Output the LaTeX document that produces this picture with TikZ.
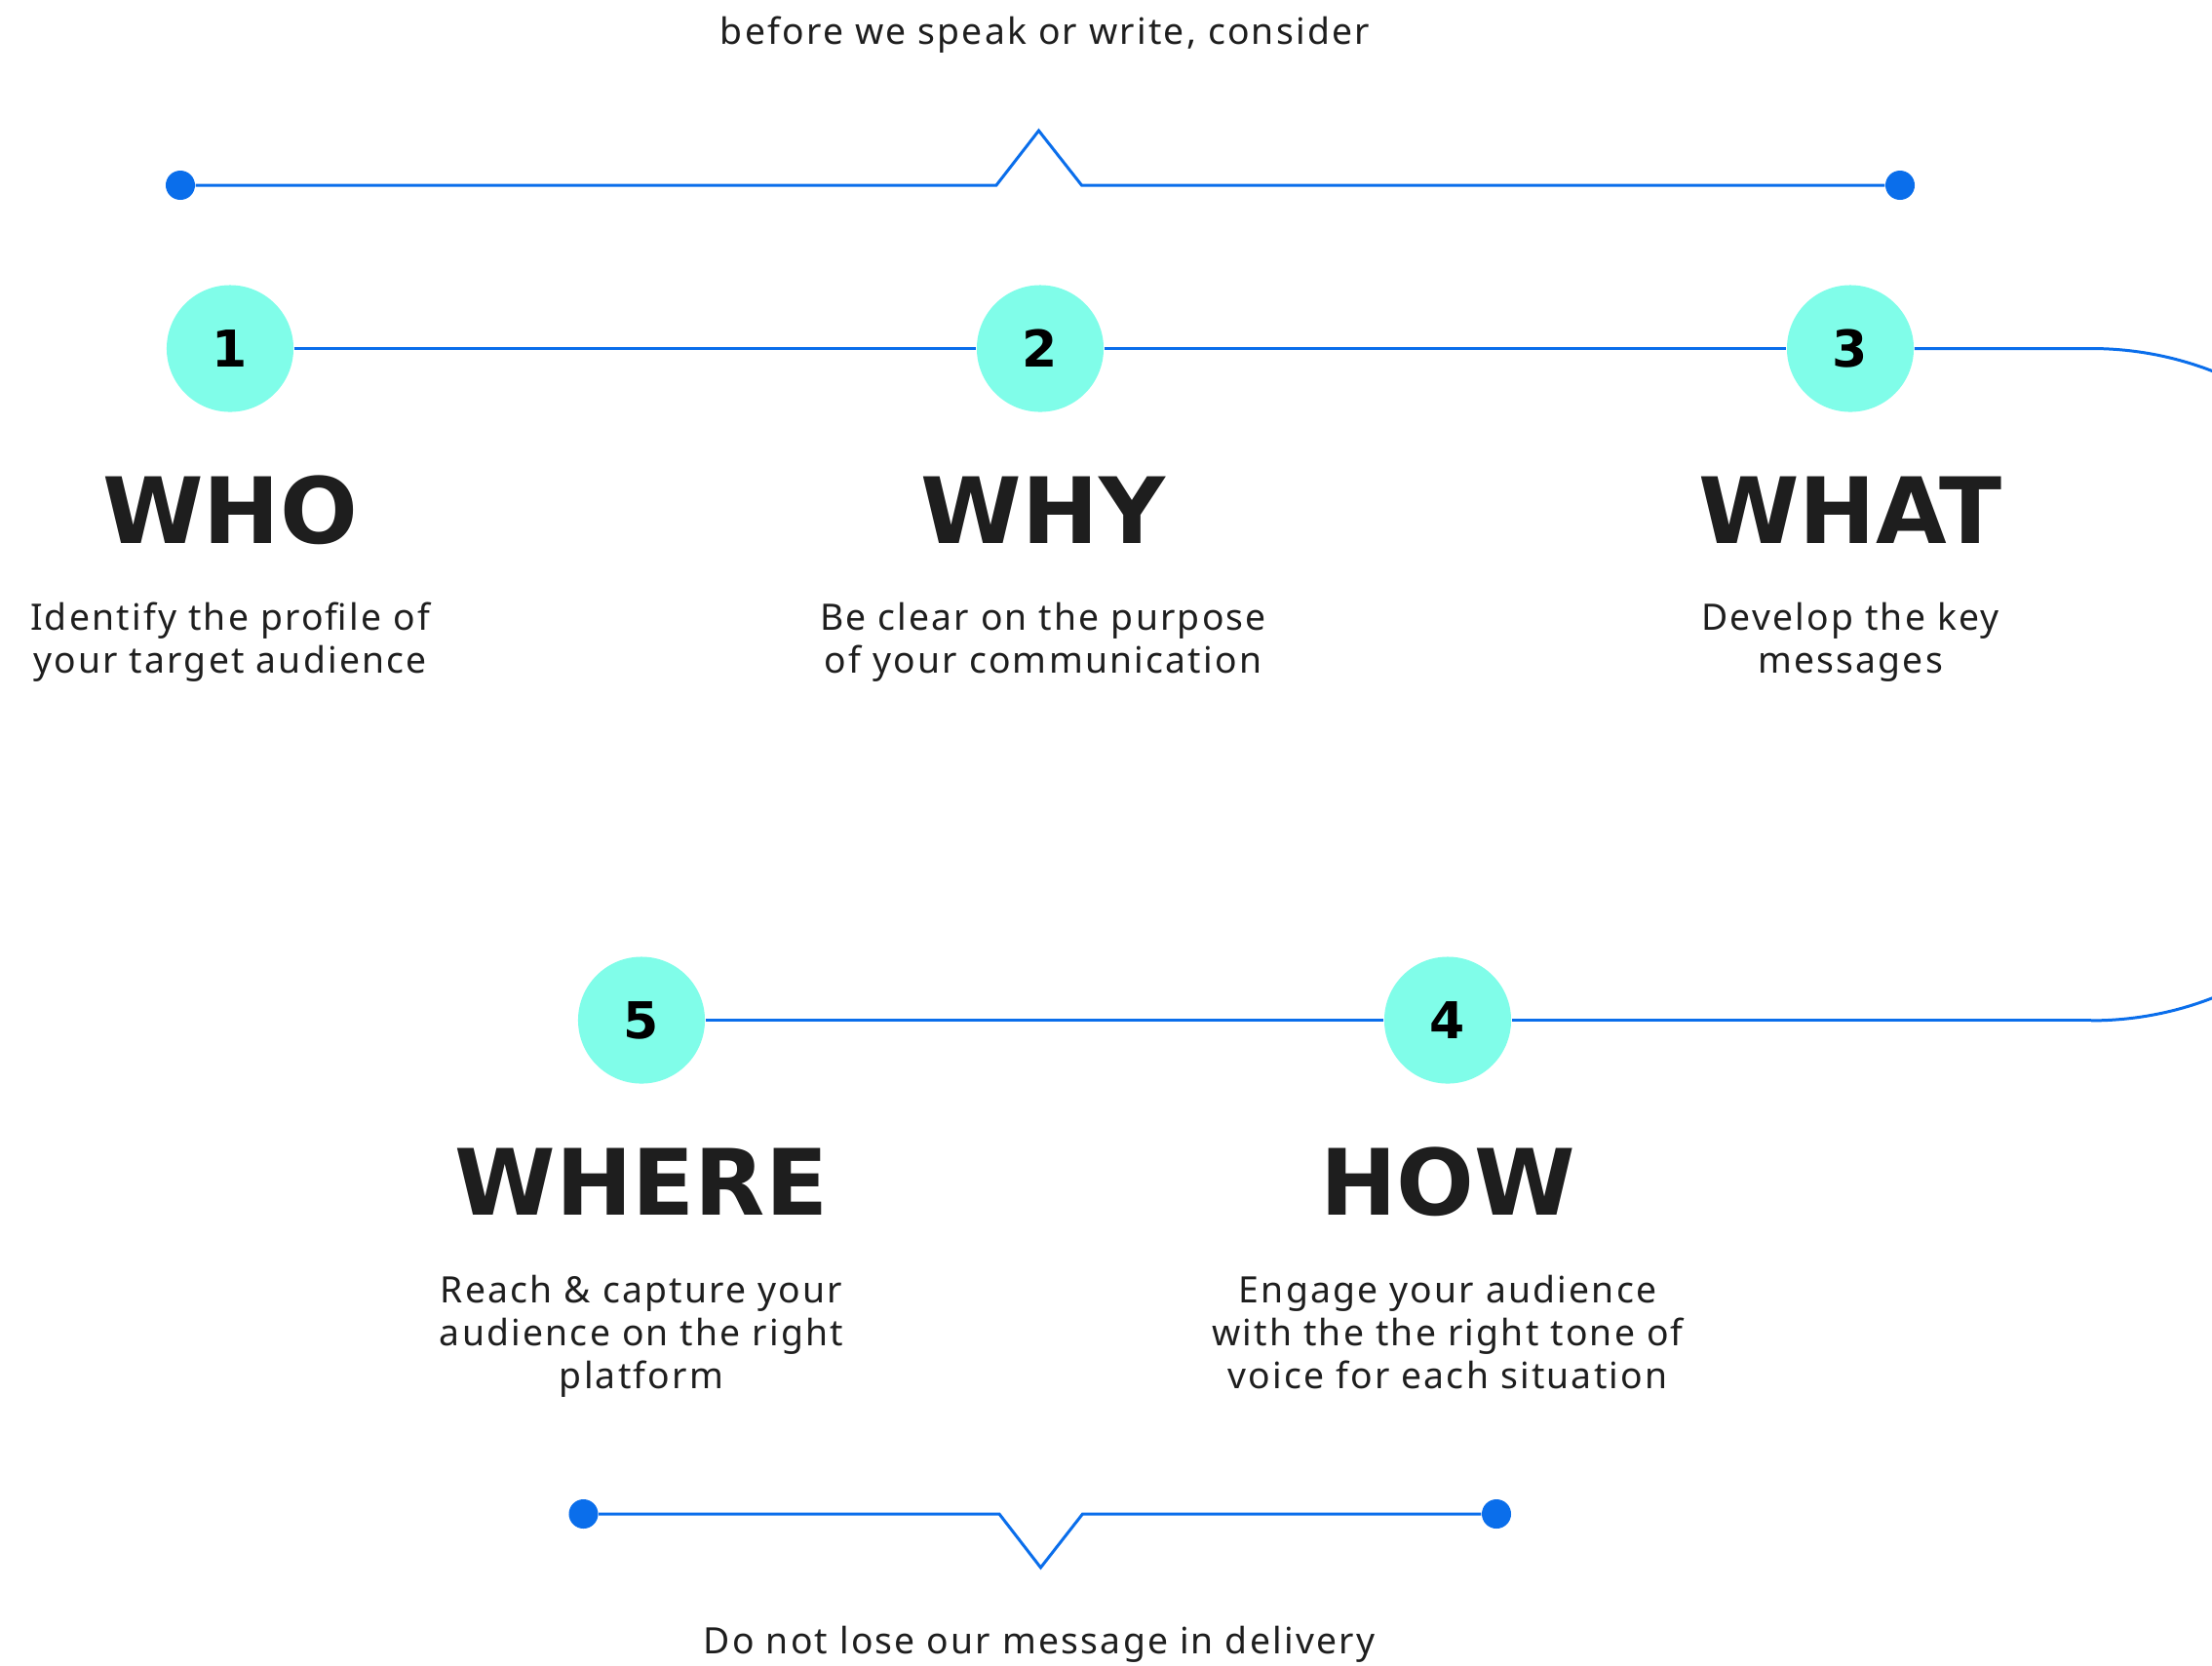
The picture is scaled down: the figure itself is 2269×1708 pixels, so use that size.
\documentclass[tikz,border=0pt]{standalone}
\usepackage{fontspec}
\setmainfont{Noto Sans}
\newfontfamily\headfont{DejaVu Sans}
\newfontfamily\bodyfont[LetterSpace=6]{Noto Sans}
\newfontfamily\numfont{DejaVu Sans}
\definecolor{lineblue}{HTML}{0A6EEB}
\definecolor{stepcyan}{HTML}{80FDE9}
\definecolor{inkdark}{HTML}{1E1E1E}
\tikzset{
  link/.style={draw=lineblue, line width=0.85pt},
  numcircle/.style={circle, fill=stepcyan, minimum size=1.3cm, inner sep=0pt, font=\numfont\bfseries\fontsize{14.8}{16}\selectfont, text=black},
  enddot/.style={circle, fill=lineblue, minimum size=0.3cm, inner sep=0pt},
  headtext/.style={anchor=base, text=inkdark, inner sep=0pt, font=\headfont\bfseries\fontsize{26.7}{30}\selectfont},
  desctext/.style={anchor=base, text=inkdark, inner sep=0pt, align=center, font=\bodyfont\fontsize{10.6}{12.5}\selectfont},
}
\begin{document}
\begin{tikzpicture}[x=0.01cm, y=-0.01cm]
\clip (0,0) rectangle (2269,1708);
\fill[white] (0,0) rectangle (2269,1708);
% top caption and bracket
\node[desctext] (cap1) at (1072,45) {before we speak or write, consider};
\node[enddot] (d1) at (185,190) {};
\node[enddot] (d2) at (1949,190) {};
\draw[link] (d1) -- (1022,190) -- (1065.5,134) -- (1109.5,190) -- (d2);
% step circles
\node[numcircle] (c1) at (236,357.5) {1};
\node[numcircle] (c2) at (1067,357.5) {2};
\node[numcircle] (c3) at (1898,357.5) {3};
\node[numcircle] (c4) at (1485,1046.5) {4};
\node[numcircle] (c5) at (658,1046.5) {5};
\coordinate (arcTop) at (2145,357.5);
\coordinate (arcBot) at (2145,1046.5);
\draw[link] (c1) -- (c2);
\draw[link] (c2) -- (c3);
\draw[link] (c3.east) -- (arcTop) arc[start angle=90, end angle=-90, radius=3.445cm];
\draw[link] (arcBot) -- (c4.east);
\draw[link] (c4) -- (c5);
% headings
\node[headtext] (h1) at (236,557) {WHO};
\node[headtext] (h2) at (1070,557) {WHY};
\node[headtext] (h3) at (1898,557) {WHAT};
\node[headtext] (h5) at (658,1246) {WHERE};
\node[headtext] (h4) at (1485,1246) {HOW};
% descriptions (anchor = baseline of last line)
\node[desctext] (t1) at (236,690) {Identify the profile of\\your target audience};
\node[desctext] (t2) at (1070,690) {Be clear on the purpose\\of your communication};
\node[desctext] (t3) at (1898,690) {Develop the key\\messages};
\node[desctext] (t5) at (658,1424) {Reach \& capture your\\audience on the right\\platform};
\node[desctext] (t4) at (1485,1424) {Engage your audience\\with the the right tone of\\voice for each situation};
% bottom bracket and caption
\node[enddot] (d3) at (598.5,1553) {};
\node[enddot] (d4) at (1535,1553) {};
\draw[link] (d3) -- (1025,1553) -- (1067.5,1608) -- (1110.5,1553) -- (d4);
\node[desctext] (cap2) at (1066,1696) {Do not lose our message in delivery};
\end{tikzpicture}
\end{document}
